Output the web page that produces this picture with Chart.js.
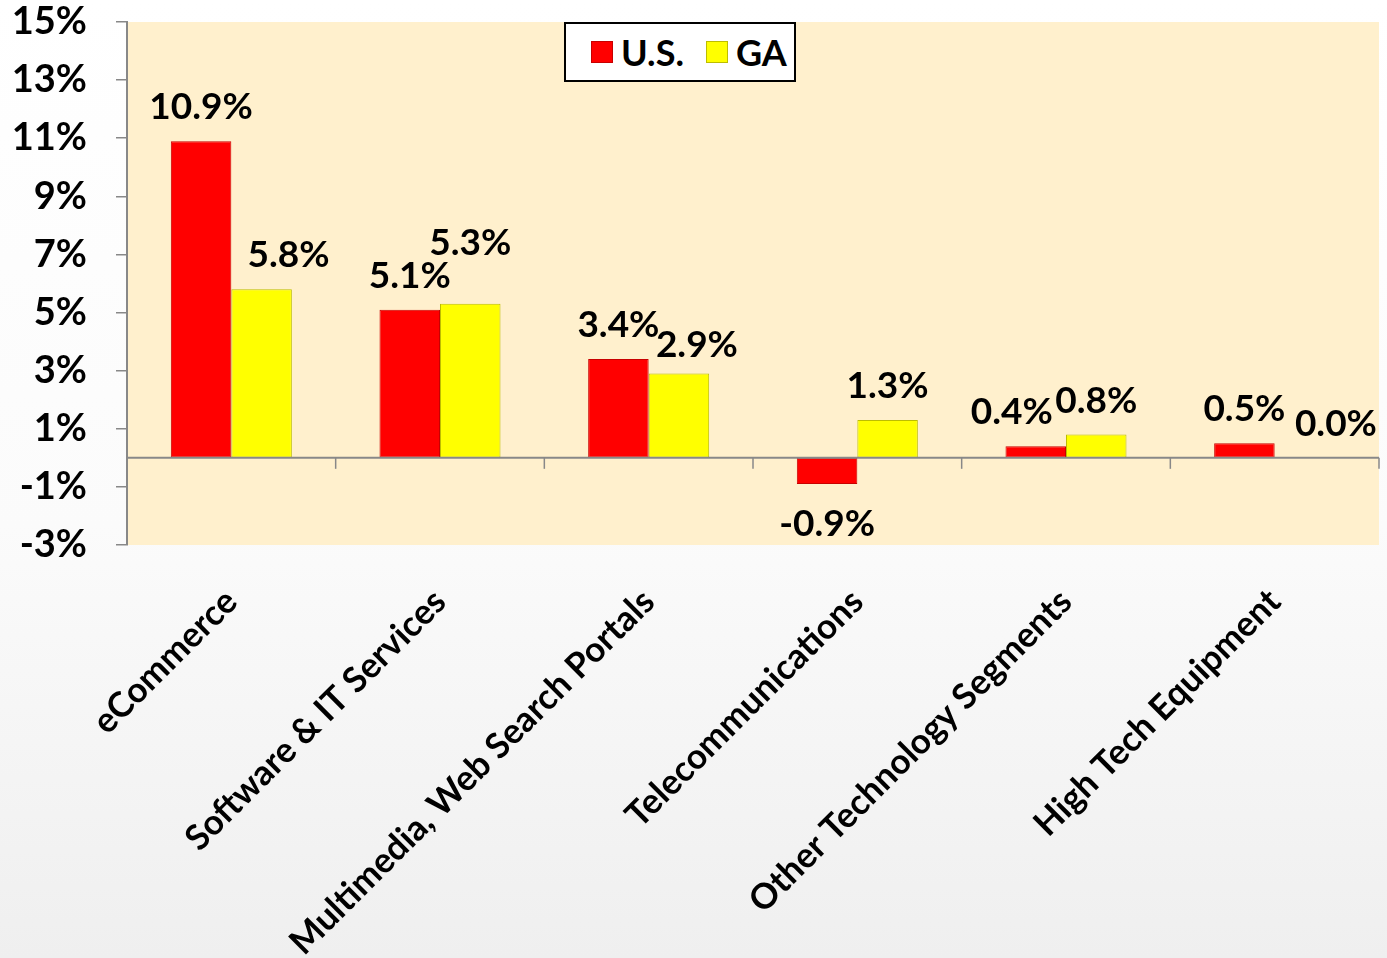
<!DOCTYPE html>
<html>
<head>
<meta charset="utf-8">
<script src="https://cdn.jsdelivr.net/npm/chart.js@4"></script>
<style>
html,body{margin:0;padding:0;}
body{width:1387px;height:958px;background:linear-gradient(#ffffff 0%,#fbfbfb 55%,#efefef 100%);font-family:Lato,sans-serif;}
#wrap{position:relative;width:1387px;height:958px;}
#legend{position:absolute;left:564px;top:22px;width:203px;height:56px;padding-left:25px;border:2px solid #000;background:#fff;display:flex;align-items:center;gap:22px;font-weight:bold;font-size:36px;color:#000;}
#legend .item{display:flex;align-items:center;gap:8px;}
#legend .sw{width:22px;height:22px;display:inline-block;}
</style>
</head>
<body>
<div id="wrap">
<canvas id="chart"></canvas>
<div id="legend"></div>
</div>
<script>
const categories=["eCommerce","Software & IT Services","Multimedia, Web Search Portals","Telecommunications","Other Technology Segments","High Tech Equipment"];
const usValues=[10.9,5.1,3.4,-0.9,0.4,0.5];
const gaValues=[5.8,5.3,2.9,1.3,0.8,0.0];
const yTicks=[-3,-1,1,3,5,7,9,11,13,15];

// small label nudges where the original labels were moved by hand
const usNudge=[[0,0],[0,0],[0,0],[0,4],[-24,0],[0,0]];
const gaNudge=[[27,0],[0,-27],[18,5],[0,0],[0,0],[31,0]];

const plotBg={
id:"plotBg",
beforeDraw(chart){
const a=chart.chartArea;
const ctx=chart.ctx;
ctx.save();
ctx.fillStyle="#FFF0CD";
ctx.fillRect(a.left,a.top,a.right-a.left,a.bottom-a.top);
ctx.restore();
}
};

const zeroAxis={
id:"zeroAxis",
afterDatasetsDraw(chart){
const ctx=chart.ctx;
const a=chart.chartArea;
const x=chart.scales.x;
const y0=chart.scales.y.getPixelForValue(0);
ctx.save();
ctx.strokeStyle="#888";
ctx.lineWidth=2;
ctx.beginPath();
ctx.moveTo(a.left,y0);
ctx.lineTo(a.right,y0);
ctx.stroke();
ctx.lineWidth=1.5;
const half=(x.getPixelForValue(1)-x.getPixelForValue(0))/2;
for(let i=1;i<=categories.length;i++){
const px=x.getPixelForValue(i-1)+half;
ctx.beginPath();
ctx.moveTo(px,y0);
ctx.lineTo(px,y0+11);
ctx.stroke();
}
ctx.restore();
}
};

const valueLabels={
id:"valueLabels",
afterDatasetsDraw(chart){
const ctx=chart.ctx;
ctx.save();
ctx.font="bold 37px Lato";
ctx.fillStyle="#000";
ctx.textAlign="center";
ctx.textBaseline="middle";
chart.data.datasets.forEach((ds,di)=>{
const meta=chart.getDatasetMeta(di);
const nudge=di===0?usNudge:gaNudge;
meta.data.forEach((el,i)=>{
const v=ds.data[i];
const y=v<0?el.y+36:el.y-34;
ctx.fillText(v.toFixed(1)+"%",el.x+nudge[i][0],y+nudge[i][1]);
});
});
ctx.restore();
}
};

const chart=new Chart(document.getElementById("chart"),{
type:"bar",
data:{
labels:categories,
datasets:[
{label:"U.S.",data:usValues,backgroundColor:"#FF0000",borderColor:"#C80000",borderWidth:1,borderSkipped:false},
{label:"GA",data:gaValues,backgroundColor:"#FFFF00",borderColor:"#BDBD00",borderWidth:1,borderSkipped:false}
]
},
options:{
responsive:true,
maintainAspectRatio:false,
animation:false,
layout:{padding:{top:22,right:8,left:0,bottom:0}},
plugins:{legend:{display:false},tooltip:{enabled:false}},
datasets:{bar:{categoryPercentage:0.58,barPercentage:1}},
scales:{
x:{
grid:{display:false},
border:{display:false},
ticks:{
color:"#000",
font:{family:"Lato",weight:"bold",size:35},
minRotation:45,
maxRotation:45,
autoSkip:false,
padding:28
},
afterFit(s){s.height=413;s.paddingLeft=0;s.paddingRight=0;}
},
y:{
min:-3,
max:15,
afterBuildTicks(s){s.ticks=yTicks.map(v=>({value:v}));},
grid:{drawOnChartArea:false,color:"#888",tickLength:11,lineWidth:1.5},
border:{color:"#888",width:2},
ticks:{
color:"#000",
font:{family:"Lato",weight:"bold",size:38},
padding:29,
callback:v=>v+"%"
},
afterFit(s){s.width=127;s.paddingTop=0;s.paddingBottom=0;}
}
}
},
plugins:[plotBg,zeroAxis,valueLabels]
});

const legendBox=document.getElementById("legend");
chart.data.datasets.forEach(ds=>{
const item=document.createElement("span");
item.className="item";
const sw=document.createElement("span");
sw.className="sw";
sw.style.background=ds.backgroundColor;
sw.style.boxShadow="inset 0 0 0 1px "+ds.borderColor;
const t=document.createElement("span");
t.textContent=ds.label;
item.appendChild(sw);
item.appendChild(t);
legendBox.appendChild(item);
});
</script>
</body>
</html>
